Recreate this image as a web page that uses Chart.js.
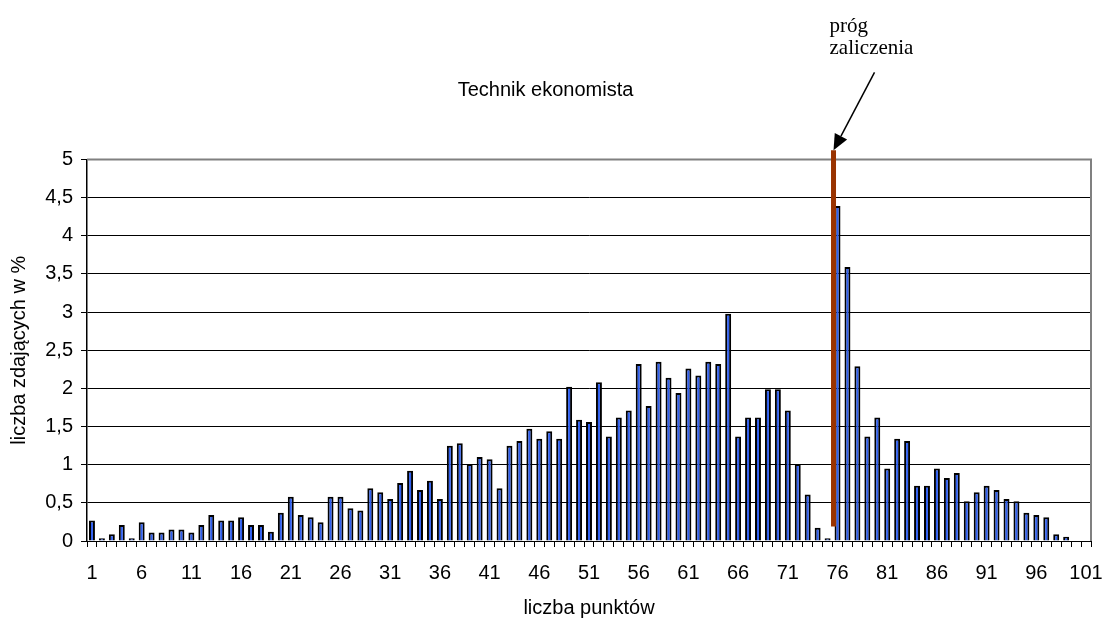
<!DOCTYPE html>
<html>
<head>
<meta charset="utf-8">
<title>Technik ekonomista</title>
<script src="https://cdn.jsdelivr.net/npm/chart.js@4.4.0/dist/chart.umd.min.js"></script>
<style>
  html, body { margin: 0; padding: 0; background: #fff; }
  #wrap { width: 1102px; height: 618px; }
</style>
</head>
<body>
<div id="wrap"><canvas id="myChart"></canvas></div>
<script>
// liczba punktow (kategorie osi X)
const punkty = [
  1, 2, 3, 4, 5, 6, 7, 8, 9, 10, 11, 12, 13, 14, 15, 16, 17, 18, 19, 20,
  21, 22, 23, 24, 25, 26, 27, 28, 29, 30, 31, 32, 33, 34, 35, 36, 37, 38, 39, 40,
  41, 42, 43, 44, 45, 46, 47, 48, 49, 50, 51, 52, 53, 54, 55, 56, 57, 58, 59, 60,
  61, 62, 63, 64, 65, 66, 67, 68, 69, 70, 71, 72, 73, 74, 75, 76, 77, 78, 79, 80,
  81, 82, 83, 84, 85, 86, 87, 88, 89, 90, 91, 92, 93, 94, 95, 96, 97, 98, 99, 100, 101
];

// liczba zdajacych w %
const zdajacy = [
  0.27, 0.035, 0.09, 0.21, 0.035, 0.245, 0.11, 0.11, 0.15, 0.15,
  0.11, 0.21, 0.34, 0.27, 0.27, 0.31, 0.21, 0.21, 0.12, 0.37,
  0.58, 0.34, 0.31, 0.245, 0.58, 0.58, 0.43, 0.40, 0.69, 0.64,
  0.55, 0.76, 0.92, 0.67, 0.79, 0.55, 1.25, 1.28, 1.01, 1.10,
  1.07, 0.69, 1.25, 1.31, 1.47, 1.34, 1.44, 1.34, 2.02, 1.59,
  1.56, 2.08, 1.37, 1.62, 1.71, 2.32, 1.77, 2.35, 2.14, 1.94,
  2.26, 2.17, 2.35, 2.32, 2.98, 1.37, 1.62, 1.62, 1.99, 1.99,
  1.71, 1.01, 0.61, 0.175, 0.035, 4.39, 3.59, 2.29, 1.37, 1.62,
  0.95, 1.34, 1.31, 0.725, 0.725, 0.95, 0.825, 0.89, 0.52, 0.64,
  0.725, 0.67, 0.55, 0.52, 0.37, 0.34, 0.31, 0.087, 0.057, 0, 0
];

// podpisy osi X (co 5 punktow)
const etykietyX = ['1', '6', '11', '16', '21', '26', '31', '36', '41', '46', '51',
  '56', '61', '66', '71', '76', '81', '86', '91', '96', '101'];

// prog zaliczenia
const progPunkty = 76;
const progOd = 0.19;
const progDo = 5.12;

const FONT = "'Liberation Sans', Arial, sans-serif";

const progPlugin = {
  id: 'prog',
  afterDatasetsDraw(chart) {
    const ctx = chart.ctx;
    const xs = chart.scales.x;
    const ys = chart.scales.y;
    const x = xs.getPixelForValue(punkty.indexOf(progPunkty)) - 4;
    const yDol = ys.getPixelForValue(progOd);
    const yGora = ys.getPixelForValue(progDo);
    ctx.save();

    // ramka wykresu (gora i prawa strona)
    const a = chart.chartArea;
    ctx.strokeStyle = '#808080';
    ctx.lineWidth = 2;
    ctx.beginPath();
    ctx.moveTo(a.left, a.top);
    ctx.lineTo(a.right, a.top);
    ctx.lineTo(a.right, a.bottom);
    ctx.stroke();

    // linia progu
    ctx.strokeStyle = '#993300';
    ctx.lineWidth = 5;
    ctx.beginPath();
    ctx.moveTo(x, yDol);
    ctx.lineTo(x, yGora);
    ctx.stroke();

    // strzalka
    const sx = x + 41, sy = yGora - 78;
    const dx = x - sx, dy = yGora - sy;
    const len = Math.sqrt(dx * dx + dy * dy);
    const ux = dx / len, uy = dy / len;
    const headLen = 16, headW = 7;
    const bx = x - ux * headLen, by = yGora - uy * headLen;
    ctx.strokeStyle = '#000';
    ctx.lineWidth = 1.5;
    ctx.beginPath();
    ctx.moveTo(sx, sy);
    ctx.lineTo(bx, by);
    ctx.stroke();
    ctx.fillStyle = '#000';
    ctx.beginPath();
    ctx.moveTo(x, yGora);
    ctx.lineTo(bx - uy * headW, by + ux * headW);
    ctx.lineTo(bx + uy * headW, by - ux * headW);
    ctx.closePath();
    ctx.fill();

    // opis
    ctx.font = "21px 'Liberation Serif', 'Times New Roman', serif";
    ctx.textAlign = 'left';
    ctx.textBaseline = 'alphabetic';
    ctx.fillText('próg', x - 4, yGora - 118);
    ctx.fillText('zaliczenia', x - 4, yGora - 96);
    ctx.restore();
  }
};

const ctx = document.getElementById('myChart').getContext('2d');
const chart = new Chart(ctx, {
  type: 'bar',
  data: {
    labels: punkty,
    datasets: [{
      label: 'liczba zdających w %',
      data: zdajacy,
      backgroundColor: '#2F5FF0',
      borderColor: '#000000',
      borderWidth: 2,
      borderSkipped: 'bottom',
      barPercentage: 0.6,
      categoryPercentage: 1.0
    }]
  },
  options: {
    responsive: true,
    maintainAspectRatio: false,
    animation: false,
    layout: { padding: { top: 0, right: 11, bottom: 0, left: 0 } },
    plugins: {
      legend: { display: false },
      tooltip: { enabled: false },
      title: {
        display: true,
        text: 'Technik ekonomista',
        color: '#000',
        font: { family: FONT, size: 20, weight: 'normal' },
        padding: { top: 78, bottom: 57.5 }
      }
    },
    scales: {
      x: {
        offset: true,
        grid: {
          offset: true,
          drawOnChartArea: false,
          drawTicks: true,
          tickLength: 6,
          color: '#000'
        },
        border: { color: '#000', width: 1 },
        ticks: {
          autoSkip: false,
          maxRotation: 0,
          padding: 14,
          color: '#000',
          font: { family: FONT, size: 20 },
          callback: function (val) {
            const l = String(this.getLabelForValue(val));
            return etykietyX.includes(l) ? l : '';
          }
        },
        title: {
          display: true,
          text: 'liczba punktów',
          color: '#000',
          font: { family: FONT, size: 20 },
          padding: { top: 0, bottom: -2 }
        },
        afterFit(axis) {
          axis.height = 77;
          axis.paddingLeft = 0;
          axis.paddingRight = 0;
        }
      },
      y: {
        min: 0,
        max: 5,
        ticks: {
          stepSize: 0.5,
          padding: 8,
          color: '#000',
          font: { family: FONT, size: 20 },
          callback: v => String(v).replace('.', ',')
        },
        grid: {
          color: c => (c.tick && c.tick.value === 5) ? 'rgba(0,0,0,0)' : '#000',
          tickColor: '#000',
          lineWidth: 1,
          tickLength: 6,
          drawTicks: true
        },
        border: { color: '#000', width: 1.5 },
        title: {
          display: true,
          text: 'liczba zdających w %',
          color: '#000',
          font: { family: FONT, size: 20 },
          padding: { top: 7, bottom: 0 }
        },
        afterFit(axis) {
          axis.width = 87;
        }
      }
    }
  },
  plugins: [progPlugin]
});
console.log('chart drawn', chart.chartArea);
</script>
</body>
</html>
